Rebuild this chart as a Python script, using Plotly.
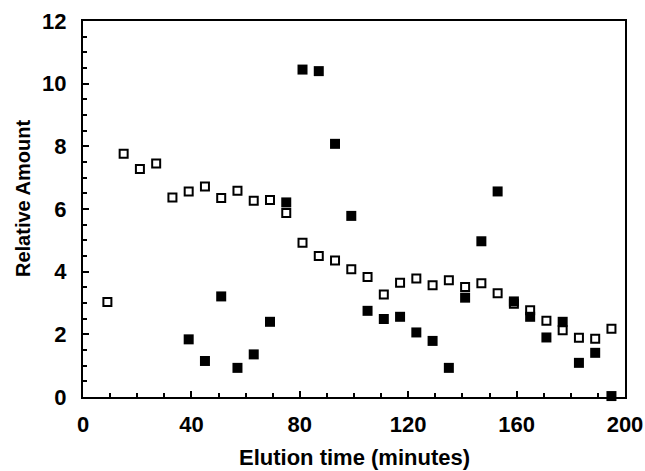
import plotly.graph_objects as go

# Open squares series
open_x = [9, 15, 21, 27, 33, 39, 45, 51, 57, 63, 69, 75, 81, 87, 93, 99, 105, 111,
          117, 123, 129, 135, 141, 147, 153, 159, 165, 171, 177, 183, 189, 195]
open_y = [3.03, 7.76, 7.28, 7.45, 6.37, 6.56, 6.72, 6.35, 6.58, 6.26, 6.29, 5.87,
          4.92, 4.50, 4.36, 4.08, 3.83, 3.27, 3.65, 3.78, 3.57, 3.73, 3.51, 3.63,
          3.31, 2.98, 2.77, 2.43, 2.13, 1.89, 1.86, 2.18]

# Filled squares series
filled_x = [39, 45, 51, 57, 63, 69, 75, 81, 87, 93, 99, 105, 111, 117, 123, 129,
            135, 141, 147, 153, 159, 165, 171, 177, 183, 189, 195]
filled_y = [1.84, 1.15, 3.21, 0.93, 1.36, 2.40, 6.21, 10.45, 10.40, 8.08, 5.78,
            2.75, 2.49, 2.56, 2.06, 1.79, 0.93, 3.17, 4.97, 6.56, 3.05, 2.56,
            1.90, 2.40, 1.09, 1.41, 0.03]

x_ticks = [0, 40, 80, 120, 160, 200]
y_ticks = [0, 2, 4, 6, 8, 10, 12]
x_title = "Elution time (minutes)"
y_title = "Relative Amount"

FONT = "Liberation Sans, Arial, Helvetica, sans-serif"

fig = go.Figure()
fig.add_trace(go.Scatter(
    x=filled_x, y=filled_y, mode="markers", cliponaxis=False,
    marker=dict(symbol="square", size=10, color="black",
                line=dict(width=0)),
    showlegend=False))
fig.add_trace(go.Scatter(
    x=open_x, y=open_y, mode="markers", cliponaxis=False,
    marker=dict(symbol="square-open", size=8, color="black",
                line=dict(width=2, color="black")),
    showlegend=False))

fig.update_layout(
    width=645, height=471,
    margin=dict(l=83, r=20, t=21, b=74),
    paper_bgcolor="white", plot_bgcolor="white",
    font=dict(family=FONT, color="black"),
    annotations=[
        dict(text=x_title, xref="paper", yref="paper", x=0.5, y=0,
             xanchor="center", yanchor="middle", yshift=-60, showarrow=False,
             font=dict(family=FONT, size=22, color="black", weight="bold")),
        dict(text=y_title, xref="paper", yref="paper", x=0, y=0.5,
             xanchor="center", yanchor="middle", xshift=-60, yshift=10,
             textangle=-90, showarrow=False,
             font=dict(family=FONT, size=20, color="black", weight="bold")),
    ],
)
fig.update_xaxes(
    range=[0, 200], tickvals=x_ticks, ticktext=[str(v) for v in x_ticks],
    automargin=False,
    showgrid=False, zeroline=False,
    showline=True, linecolor="black", linewidth=2, mirror=True,
    ticks="inside", ticklen=6, tickwidth=2, tickcolor="black",
    minor=dict(tickvals=list(range(0, 201, 10)), ticks="inside", ticklen=4,
               tickwidth=1.5, tickcolor="black", showgrid=False),
    tickfont=dict(family=FONT, size=22, color="black", weight="bold"),
    ticklabelstandoff=7,
)
fig.update_yaxes(
    range=[0, 12], tickvals=y_ticks, ticktext=[str(v) for v in y_ticks],
    automargin=False,
    showgrid=False, zeroline=False,
    showline=True, linecolor="black", linewidth=2, mirror=True,
    ticks="inside", ticklen=6, tickwidth=2, tickcolor="black",
    minor=dict(tickvals=[v * 0.5 for v in range(0, 25)], ticks="inside",
               ticklen=4, tickwidth=1.5, tickcolor="black", showgrid=False),
    tickfont=dict(family=FONT, size=22, color="black", weight="bold"),
    ticklabelstandoff=10,
)

# remove the default page margin so the 645x471 figure fills the window exactly
fig.write_html(
    "out.html",
    config={"displayModeBar": False},
    post_script="document.body.style.margin='0';document.body.style.overflow='hidden';",
)
